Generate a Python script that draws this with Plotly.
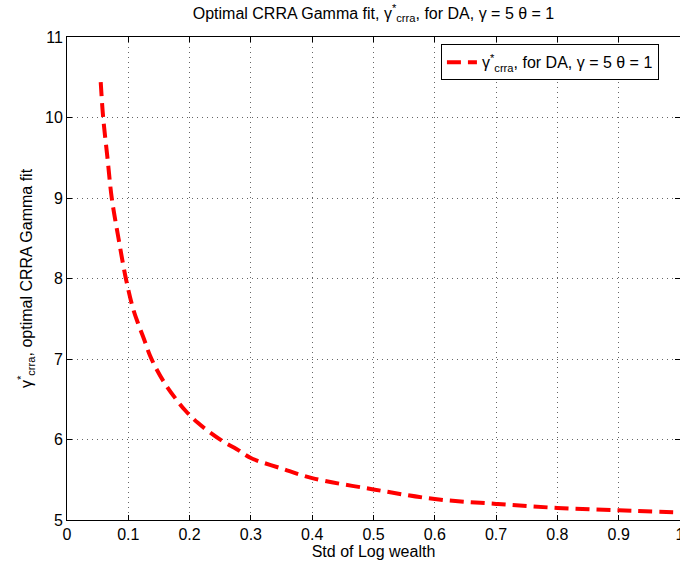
import plotly.graph_objects as go

std_log_wealth = [0.055, 0.059, 0.066, 0.073, 0.084, 0.096, 0.108, 0.117, 0.126, 0.135,
                  0.147, 0.161, 0.177, 0.193, 0.213, 0.233, 0.256, 0.277, 0.3, 0.35,
                  0.4, 0.5, 0.6, 0.7, 0.8, 0.9, 1.0]
gamma_crra = [10.44, 10.0, 9.5, 9.0, 8.5, 8.0, 7.62, 7.42, 7.24, 7.05,
              6.86, 6.68, 6.51, 6.36, 6.21, 6.09, 5.97, 5.88, 5.77, 5.64,
              5.52, 5.38, 5.26, 5.20, 5.15, 5.12, 5.095]
x_ticks = [0, 0.1, 0.2, 0.3, 0.4, 0.5, 0.6, 0.7, 0.8, 0.9, 1]
x_ticklabels = ["0", "0.1", "0.2", "0.3", "0.4", "0.5", "0.6", "0.7", "0.8", "0.9", "1"]
y_ticks = [5, 6, 7, 8, 9, 10, 11]

FONT = "Liberation Sans, Arial, Helvetica, sans-serif"
FS = 16

fig = go.Figure()
fig.add_trace(go.Scatter(
    x=std_log_wealth, y=gamma_crra, mode="lines",
    line=dict(color="#ff0000", width=4, dash="14px,7px", shape="spline"),
    name="γ<sup>*</sup><sub>crra</sub>, for DA, γ = 5 θ = 1",
    showlegend=True,
))

axis_common = dict(
    showline=True, linecolor="black", linewidth=1, mirror="allticks",
    ticks="inside", ticklen=5, tickcolor="black",
    showgrid=True, gridcolor="#666666", gridwidth=1, griddash="1px,4px",
    zeroline=False, automargin=False,
    tickfont=dict(family=FONT, size=FS, color="black"),
)

fig.update_xaxes(range=[0, 1], tickvals=x_ticks, ticktext=x_ticklabels,
                 ticklabeloverflow="allow",
                 title=dict(text="Std of Log wealth", font=dict(family=FONT, size=FS, color="black"), standoff=2),
                 **axis_common)
fig.update_yaxes(range=[5, 11], tickvals=y_ticks,
                 title=dict(text="γ<sup>*</sup><sub>crra</sub>, optimal CRRA Gamma fit",
                            font=dict(family=FONT, size=FS, color="black"), standoff=8),
                 **axis_common)

fig.update_layout(
    width=680, height=567,
    margin=dict(l=67, r=0, t=37, b=47, autoexpand=False),
    paper_bgcolor="white", plot_bgcolor="white",
    font=dict(family=FONT, size=FS, color="black"),
    title=dict(text="Optimal CRRA Gamma fit, γ<sup>*</sup><sub>crra</sub>, for DA, γ = 5 θ = 1",
               x=(67 + 680) / 2 / 680, xanchor="center", y=1 - 13 / 567, yanchor="middle",
               font=dict(family=FONT, size=FS, color="black")),
    legend=dict(x=0.61, y=0.985, xanchor="left", yanchor="top",
                bordercolor="black", borderwidth=1, bgcolor="white",
                font=dict(family=FONT, size=FS, color="black")),
)

fig.write_html("out.html")
